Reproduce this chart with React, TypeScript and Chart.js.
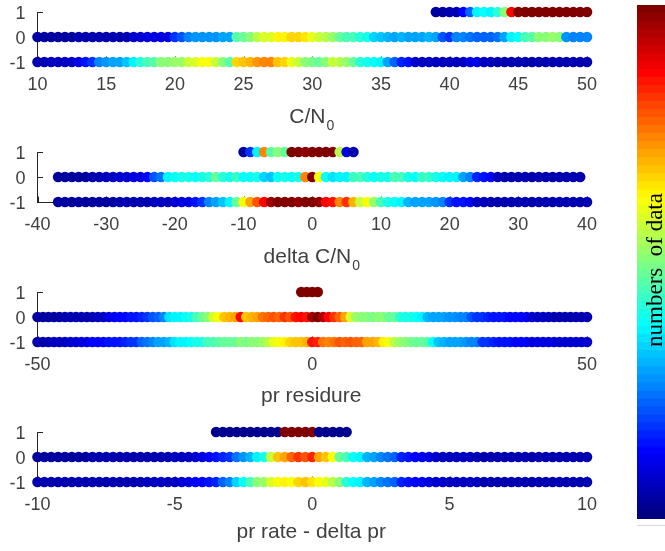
import React, { useEffect, useRef } from "react";
import { Chart, registerables } from "chart.js";
Chart.register(...registerables);

// ---------- data (colour values 0..100 = position in jet colormap, "numbers of data") ----------
const Y_TICKS = [-1, 0, 1];

// Panel 1: C/N0
const CN0_X_TICKS = [10, 15, 20, 25, 30, 35, 40, 45, 50];
const CN0_STEP = 0.5;
const CN0_ROW_P1_START = 39;
const CN0_ROW_P1 = [3, 3, 4, 5, 12, 22, 36, 38, 37, 42, 50, 87, 100, 100, 100, 100, 100, 100, 100, 100, 100, 100, 100];
const CN0_ROW_0_START = 10;
const CN0_ROW_0 = [3, 3, 3, 3, 3, 3, 4, 4, 4, 4, 5, 5, 5, 5, 8, 8, 9, 9, 10, 10, 18, 20, 26, 27, 27, 27, 27, 28, 28, 46, 47, 50, 56, 58, 58, 63, 64, 66, 67, 65, 60, 57, 56, 52, 47, 45, 44, 42, 40, 34, 31, 30, 29, 30, 29, 28, 29, 30, 29, 20, 18, 25, 26, 24, 23, 22, 23, 24, 28, 37, 38, 44, 46, 50, 51, 52, 50, 27, 25, 25, 25];
const CN0_ROW_M1_START = 10;
const CN0_ROW_M1 = [5, 5, 6, 6, 7, 8, 10, 15, 17, 25, 27, 28, 29, 31, 36, 42, 45, 46, 50, 51, 52, 53, 57, 58, 62, 62, 57, 50, 46, 67, 68, 70, 73, 75, 74, 68, 67, 60, 57, 50, 49, 48, 50, 57, 56, 52, 48, 42, 39, 38, 37, 28, 22, 16, 14, 8, 7, 7, 7, 6, 7, 7, 7, 10, 11, 6, 6, 5, 5, 5, 4, 4, 4, 4, 4, 4, 4, 4, 4, 4, 4];

// Panel 2: delta C/N0
const DCN0_X_TICKS = [-40, -30, -20, -10, 0, 10, 20, 30, 40];
const DCN0_STEP = 1;
const DCN0_ROW_P1_START = -10;
const DCN0_ROW_P1 = [3, 18, 37, 75, 46, 50, 48, 100, 100, 98, 100, 100, 100, 100, 55, 10, 4];
const DCN0_ROW_0_START = -37;
const DCN0_ROW_0 = [3, 3, 3, 3, 3, 4, 4, 6, 7, 8, 8, 9, 10, 12, 20, 24, 36, 38, 39, 40, 38, 39, 41, 48, 42, 40, 43, 38, 38, 40, 33, 32, 38, 40, 38, 39, 75, 100, 62, 38, 35, 37, 36, 43, 45, 42, 38, 39, 40, 44, 44, 40, 38, 43, 43, 39, 38, 37, 36, 28, 26, 16, 14, 12, 6, 5, 5, 5, 5, 5, 4, 4, 4, 4, 4, 4, 4];
const DCN0_ROW_M1_START = -37;
const DCN0_ROW_M1 = [3, 3, 3, 3, 3, 3, 3, 3, 3, 4, 4, 4, 5, 5, 6, 6, 7, 8, 9, 10, 15, 17, 25, 28, 31, 37, 47, 62, 72, 80, 88, 97, 100, 100, 100, 98, 100, 100, 98, 88, 85, 75, 82, 70, 57, 62, 52, 45, 40, 38, 37, 30, 29, 28, 28, 27, 25, 17, 15, 14, 12, 7, 6, 5, 5, 5, 4, 4, 4, 4, 4, 4, 4, 4, 4, 4, 4, 4];

// Panel 3: pr residure
const PR_X_TICKS = [-50, 0, 50];
const PR_STEP = 1;
const PR_ROW_P1_START = -2;
const PR_ROW_P1 = [100, 100, 100, 100];
const PR_ROW_0_START = -50;
const PR_ROW_0 = [3, 3, 3, 3, 3, 4, 4, 4, 4, 5, 5, 6, 7, 10, 11, 12, 13, 14, 15, 16, 18, 20, 22, 25, 35, 37, 37, 38, 40, 45, 48, 50, 58, 62, 68, 70, 72, 88, 68, 70, 72, 76, 78, 80, 78, 82, 80, 85, 87, 85, 97, 100, 95, 88, 82, 78, 72, 58, 52, 50, 50, 49, 50, 51, 48, 47, 42, 40, 39, 38, 37, 30, 29, 28, 28, 27, 27, 26, 25, 20, 18, 17, 16, 15, 15, 14, 13, 13, 12, 11, 8, 7, 6, 6, 5, 5, 5, 4, 4, 4, 4];
const PR_ROW_M1_START = -50;
const PR_ROW_M1 = [5, 5, 5, 6, 6, 7, 8, 8, 9, 10, 12, 12, 13, 14, 15, 15, 16, 17, 18, 22, 24, 26, 28, 29, 30, 35, 36, 37, 38, 39, 40, 44, 45, 46, 47, 48, 48, 50, 49, 50, 51, 52, 55, 60, 62, 63, 66, 68, 68, 70, 86, 84, 76, 74, 76, 80, 78, 80, 78, 77, 72, 71, 70, 63, 62, 55, 52, 50, 49, 48, 47, 46, 38, 32, 30, 29, 28, 28, 27, 26, 25, 18, 17, 16, 15, 14, 14, 13, 12, 12, 10, 10, 9, 9, 9, 8, 8, 8, 8, 8, 8];

// Panel 4: pr rate - delta pr
const PRR_X_TICKS = [-10, -5, 0, 5, 10];
const PRR_STEP = 0.25;
const PRR_ROW_P1_START = -3.5;
const PRR_ROW_P1 = [2, 2, 2, 2, 2, 2, 2, 2, 2, 2, 100, 100, 100, 100, 100, 2, 2, 2, 2, 2];
const PRR_ROW_0_START = -10;
const PRR_ROW_0 = [3, 3, 3, 3, 3, 3, 3, 3, 4, 4, 4, 4, 4, 4, 4, 4, 5, 5, 5, 5, 6, 6, 7, 8, 10, 12, 14, 16, 18, 24, 27, 30, 36, 40, 57, 68, 72, 78, 82, 80, 84, 72, 68, 62, 47, 44, 38, 36, 30, 28, 26, 24, 22, 16, 14, 12, 11, 10, 8, 7, 7, 6, 6, 6, 5, 5, 5, 5, 5, 4, 4, 4, 4, 4, 4, 4, 4, 4, 4, 4, 4];
const PRR_ROW_M1_START = -10;
const PRR_ROW_M1 = [4, 4, 4, 4, 4, 4, 4, 4, 4, 4, 4, 5, 5, 5, 5, 5, 6, 6, 6, 7, 7, 8, 10, 12, 13, 14, 16, 22, 26, 34, 38, 45, 50, 52, 58, 62, 63, 62, 66, 68, 65, 62, 60, 55, 50, 42, 38, 36, 30, 28, 26, 24, 22, 16, 14, 12, 11, 10, 8, 8, 7, 7, 6, 6, 6, 5, 5, 5, 5, 5, 5, 4, 4, 4, 4, 4, 4, 4, 4, 4, 4];

const COLORBAR_LEVELS = 64;
const COLORBAR_LABEL = "numbers  of data";

// ---------- styling ----------
const SANS = '"Liberation Sans", Arial, Helvetica, sans-serif';
const AXIS_COLOR = "#262626";
const TEXT_COLOR = "#404040";
const TICK_SIZE = 18;
const TITLE_SIZE = 21;
const SUB_SIZE = 14;
const PANEL_W = 600;
const AREA_LEFT = 37.5;
const AREA_RIGHT = 587;
const AREA_TOP = 12;
const AREA_BOTTOM = 62;

function clamp(v: number) {
  return Math.max(0, Math.min(1, v));
}
function jet(val: number) {
  const v = Math.round((val / 100) * (COLORBAR_LEVELS - 1)) / (COLORBAR_LEVELS - 1);
  const r = clamp(Math.min(4 * v - 1.5, -4 * v + 4.5));
  const g = clamp(Math.min(4 * v - 0.5, -4 * v + 3.5));
  const b = clamp(Math.min(4 * v + 0.5, -4 * v + 2.5));
  return `rgb(${Math.round(r * 255)},${Math.round(g * 255)},${Math.round(b * 255)})`;
}

type Row = { y: number; start: number; values: number[] };
type PanelCfg = {
  top: number;
  height: number;
  min: number;
  max: number;
  ticks: number[];
  step: number;
  rows: Row[];
  title: string;
  sub: string;
  titleBaseline: number;
};

const PANELS: PanelCfg[] = [
  {
    top: 0, height: 140, min: 10, max: 50, ticks: CN0_X_TICKS, step: CN0_STEP,
    rows: [
      { y: 1, start: CN0_ROW_P1_START, values: CN0_ROW_P1 },
      { y: 0, start: CN0_ROW_0_START, values: CN0_ROW_0 },
      { y: -1, start: CN0_ROW_M1_START, values: CN0_ROW_M1 },
    ],
    title: "C/N", sub: "0", titleBaseline: 123,
  },
  {
    top: 140, height: 140, min: -40, max: 40, ticks: DCN0_X_TICKS, step: DCN0_STEP,
    rows: [
      { y: 1, start: DCN0_ROW_P1_START, values: DCN0_ROW_P1 },
      { y: 0, start: DCN0_ROW_0_START, values: DCN0_ROW_0 },
      { y: -1, start: DCN0_ROW_M1_START, values: DCN0_ROW_M1 },
    ],
    title: "delta C/N", sub: "0", titleBaseline: 123,
  },
  {
    top: 280, height: 140, min: -50, max: 50, ticks: PR_X_TICKS, step: PR_STEP,
    rows: [
      { y: 1, start: PR_ROW_P1_START, values: PR_ROW_P1 },
      { y: 0, start: PR_ROW_0_START, values: PR_ROW_0 },
      { y: -1, start: PR_ROW_M1_START, values: PR_ROW_M1 },
    ],
    title: "pr residure", sub: "", titleBaseline: 122,
  },
  {
    top: 420, height: 131, min: -10, max: 10, ticks: PRR_X_TICKS, step: PRR_STEP,
    rows: [
      { y: 1, start: PRR_ROW_P1_START, values: PRR_ROW_P1 },
      { y: 0, start: PRR_ROW_0_START, values: PRR_ROW_0 },
      { y: -1, start: PRR_ROW_M1_START, values: PRR_ROW_M1 },
    ],
    title: "pr rate - delta pr", sub: "", titleBaseline: 118,
  },
];

function Panel({ cfg }: { cfg: PanelCfg }) {
  const ref = useRef<HTMLCanvasElement | null>(null);
  useEffect(() => {
    if (!ref.current) return;
    const axisPlugin = {
      id: "matlabAxis",
      beforeDatasetsDraw(chart: any) {
        const { ctx, chartArea, scales } = chart;
        ctx.save();
        ctx.strokeStyle = AXIS_COLOR;
        ctx.lineWidth = 1;
        ctx.beginPath();
        Y_TICKS.forEach((v) => {
          const py = Math.round(scales.y.getPixelForValue(v)) + 0.5;
          ctx.moveTo(chartArea.left, py);
          ctx.lineTo(chartArea.left + 5.5, py);
        });
        cfg.ticks.forEach((v) => {
          const px = Math.round(scales.x.getPixelForValue(v)) + 0.5;
          ctx.moveTo(px, chartArea.bottom);
          ctx.lineTo(px, chartArea.bottom - 5.5);
        });
        ctx.stroke();
        ctx.restore();
      },
      afterDraw(chart: any) {
        const { ctx, chartArea } = chart;
        ctx.save();
        ctx.fillStyle = TEXT_COLOR;
        ctx.textBaseline = "alphabetic";
        ctx.textAlign = "left";
        ctx.font = `${TITLE_SIZE}px ${SANS}`;
        const w1 = ctx.measureText(cfg.title).width;
        ctx.font = `${SUB_SIZE}px ${SANS}`;
        const w2 = cfg.sub ? ctx.measureText(cfg.sub).width : 0;
        const cx = (chartArea.left + chartArea.right) / 2 - 1;
        const x0 = cx - (w1 + w2) / 2;
        ctx.font = `${TITLE_SIZE}px ${SANS}`;
        ctx.fillText(cfg.title, x0, cfg.titleBaseline);
        if (cfg.sub) {
          ctx.font = `${SUB_SIZE}px ${SANS}`;
          ctx.fillText(cfg.sub, x0 + w1 + 1, cfg.titleBaseline + 7);
        }
        ctx.restore();
      },
    };
    const chart = new Chart(ref.current, {
      type: "scatter",
      data: {
        datasets: cfg.rows.map((r) => ({
          data: r.values.map((_, i) => ({ x: r.start + i * cfg.step, y: r.y })),
          pointBackgroundColor: r.values.map(jet),
          pointBorderWidth: 0,
          pointRadius: 5.3,
          pointHoverRadius: 5.3,
          clip: false,
        })),
      },
      options: {
        animation: false,
        responsive: false,
        events: [],
        layout: { padding: { left: 0, right: PANEL_W - AREA_RIGHT, top: AREA_TOP, bottom: 0 } },
        plugins: { legend: { display: false }, tooltip: { enabled: false } },
        scales: {
          x: {
            type: "linear",
            min: cfg.min,
            max: cfg.max,
            afterBuildTicks: (s: any) => {
              s.ticks = cfg.ticks.map((v) => ({ value: v }));
            },
            afterFit: (s: any) => {
              s.height = cfg.height - AREA_BOTTOM;
              s.paddingLeft = 0;
              s.paddingRight = 0;
            },
            grid: { display: false, drawTicks: false },
            border: { display: true, color: AXIS_COLOR, width: 1 },
            ticks: {
              font: { family: SANS, size: TICK_SIZE },
              color: TEXT_COLOR,
              padding: 12,
              maxRotation: 0,
              autoSkip: false,
            },
          },
          y: {
            type: "linear",
            min: -1,
            max: 1,
            afterBuildTicks: (s: any) => {
              s.ticks = Y_TICKS.map((v) => ({ value: v }));
            },
            afterFit: (s: any) => {
              s.width = AREA_LEFT;
              s.paddingTop = 0;
              s.paddingBottom = 0;
            },
            grid: { display: false, drawTicks: false },
            border: { display: true, color: AXIS_COLOR, width: 1 },
            ticks: {
              font: { family: SANS, size: TICK_SIZE },
              color: TEXT_COLOR,
              padding: 12,
              labelOffset: 2,
              autoSkip: false,
            },
          },
        },
      } as any,
      plugins: [axisPlugin],
    });
    return () => chart.destroy();
  }, [cfg]);
  return (
    <canvas
      ref={ref}
      width={PANEL_W}
      height={cfg.height}
      style={{ position: "absolute", left: 0, top: cfg.top, width: PANEL_W, height: cfg.height }}
    />
  );
}

function ColorBar() {
  const ref = useRef<HTMLCanvasElement | null>(null);
  useEffect(() => {
    if (!ref.current) return;
    const levels = Array.from({ length: COLORBAR_LEVELS }, (_, i) => (i / (COLORBAR_LEVELS - 1)) * 100);
    const labelPlugin = {
      id: "cbLabel",
      afterDraw(chart: any) {
        const { ctx, chartArea } = chart;
        ctx.save();
        ctx.strokeStyle = "#d8d8d8";
        ctx.lineWidth = 1;
        ctx.beginPath();
        ctx.moveTo(chartArea.left, 525.5);
        ctx.lineTo(chartArea.right, 525.5);
        ctx.stroke();
        ctx.translate(62, 270);
        ctx.rotate(-Math.PI / 2);
        ctx.font = '23px "Liberation Serif", "Times New Roman", serif';
        ctx.fillStyle = "#000";
        ctx.textAlign = "center";
        ctx.textBaseline = "alphabetic";
        ctx.fillText(COLORBAR_LABEL, 0, 0);
        ctx.restore();
      },
    };
    const chart = new Chart(ref.current, {
      type: "bar",
      data: {
        labels: [""],
        datasets: levels.map((v) => ({
          data: [1],
          backgroundColor: jet(v),
          borderWidth: 0,
          barPercentage: 1,
          categoryPercentage: 1,
          stack: "cb",
        })),
      },
      options: {
        animation: false,
        responsive: false,
        events: [],
        layout: { padding: { left: 37, right: 0, top: 5, bottom: 32 } },
        plugins: { legend: { display: false }, tooltip: { enabled: false } },
        scales: {
          x: { display: false, stacked: true },
          y: { display: false, stacked: true, min: 0, max: COLORBAR_LEVELS },
        },
      } as any,
      plugins: [labelPlugin],
    });
    return () => chart.destroy();
  }, []);
  return (
    <canvas
      ref={ref}
      width={65}
      height={551}
      style={{ position: "absolute", left: 600, top: 0, width: 65, height: 551 }}
    />
  );
}

export default function App() {
  return (
    <div
      style={{
        position: "absolute",
        left: 0,
        top: 0,
        width: 665,
        height: 551,
        background: "#ffffff",
        overflow: "hidden",
      }}
    >
      {PANELS.map((p, i) => (
        <Panel key={i} cfg={p} />
      ))}
      <ColorBar />
    </div>
  );
}
